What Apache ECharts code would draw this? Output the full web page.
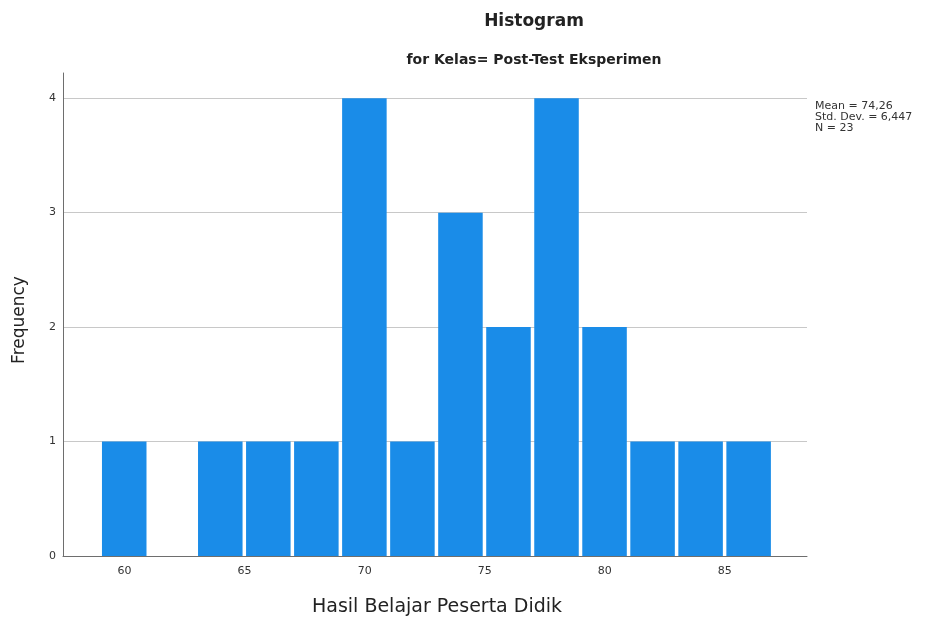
<!DOCTYPE html>
<html>
<head>
<meta charset="utf-8">
<script src="https://cdn.jsdelivr.net/npm/echarts@6/dist/echarts.min.js"></script>
<style>html,body{margin:0;padding:0;background:#fff;}#c{width:927px;height:623px;}</style>
</head>
<body>
<div id="c"></div>
<script>
const binCenters = [60, 62, 64, 66, 68, 70, 72, 74, 76, 78, 80, 82, 84, 86];
const frequencies = [1, 0, 1, 1, 1, 4, 1, 3, 2, 4, 2, 1, 1, 1];
const binWidth = 2;
const xTickLabels = [60, 65, 70, 75, 80, 85];
const yTickLabels = [0, 1, 2, 3, 4];
const statsLines = ['Mean = 74,26', 'Std. Dev. = 6,447', 'N = 23'];
const titleText = 'Histogram';
const subtitleText = 'for Kelas= Post-Test Eksperimen';
const xName = 'Hasil Belajar Peserta Didik';
const yName = 'Frequency';

const FONT = 'DejaVu Sans';
const chart = echarts.init(document.getElementById('c'), null, {renderer: 'canvas'});

const data = binCenters.map((c, i) => [c, frequencies[i]]);

chart.setOption({
  animation: false,
  backgroundColor: '#ffffff',
  grid: {left: 63, right: 120, top: 73, bottom: 67, containLabel: false},
  xAxis: {
    type: 'value',
    min: 57.44,
    max: 88.42,
    axisLine: {show: true, lineStyle: {color: '#6e6e6e', width: 1}},
    axisTick: {show: false, customValues: xTickLabels},
    splitLine: {show: false},
    axisLabel: {
      customValues: xTickLabels,
      color: '#333', fontFamily: FONT, fontSize: 11, margin: 10
    }
  },
  yAxis: {
    type: 'value',
    min: 0,
    max: 4.22,
    axisLine: {show: true, lineStyle: {color: '#6e6e6e', width: 1}},
    axisTick: {show: false, customValues: yTickLabels},
    splitLine: {show: true, lineStyle: {color: '#c8c8c8', width: 1}},
    axisLabel: {
      customValues: yTickLabels,
      color: '#333', fontFamily: FONT, fontSize: 11, margin: 7
    }
  },
  series: [{
    type: 'custom',
    data: data,
    encode: {x: 0, y: 1},
    renderItem: function (params, api) {
      const c = api.value(0);
      const v = api.value(1);
      if (!v) return null;
      const p0 = api.coord([c - binWidth / 2, 0]);
      const p1 = api.coord([c + binWidth / 2, v]);
      return {
        type: 'rect',
        shape: {x: p0[0] + 1.5, y: p1[1], width: p1[0] - p0[0] - 3.5, height: p0[1] - p1[1]},
        style: {fill: '#1a8ce8'}
      };
    }
  }],
  graphic: [
    {type: 'text', x: 534, y: 22, style: {text: titleText, font: 'bold 17px "' + FONT + '"', fill: '#222', align: 'center', verticalAlign: 'middle'}},
    {type: 'text', x: 534, y: 60, style: {text: subtitleText, font: 'bold 14px "' + FONT + '"', fill: '#222', align: 'center', verticalAlign: 'middle'}},
    {type: 'text', x: 437, y: 607, style: {text: xName, font: '19px "' + FONT + '"', fill: '#222', align: 'center', verticalAlign: 'middle'}},
    {type: 'text', x: 20, y: 320, rotation: Math.PI / 2, style: {text: yName, font: '17px "' + FONT + '"', fill: '#222', align: 'center', verticalAlign: 'middle'}},
    {type: 'text', x: 815, y: 101, style: {text: statsLines.join('\n'), font: '11px "' + FONT + '"', fill: '#333', lineHeight: 11, align: 'left', verticalAlign: 'top'}}
  ]
});
</script>
</body>
</html>
